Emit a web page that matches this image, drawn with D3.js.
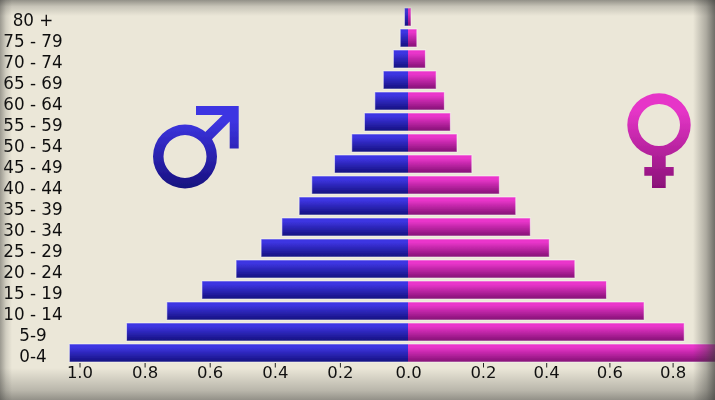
<!DOCTYPE html>
<html>
<head>
<meta charset="utf-8">
<script src="https://cdn.jsdelivr.net/npm/d3@7/dist/d3.min.js"></script>
<style>
html,body{margin:0;padding:0;background:#ebe7d8;overflow:hidden}
svg{display:block}
text{font-family:"DejaVu Sans",sans-serif;fill:#1a1a1a}
</style>
</head>
<body>
<svg id="chart" width="715" height="400"></svg>
<script>
const ageGroups = ["0-4","5-9","10 - 14","15 - 19","20 - 24","25 - 29","30 - 34","35 - 39","40 - 44","45 - 49","50 - 54","55 - 59","60 - 64","65 - 69","70 - 74","75 - 79","80 +"];
const maleValues = [1.042,0.866,0.742,0.634,0.529,0.452,0.388,0.335,0.296,0.226,0.173,0.134,0.102,0.076,0.045,0.024,0.011];
const femaleValues = [1.05,0.874,0.747,0.628,0.528,0.447,0.387,0.341,0.289,0.202,0.155,0.134,0.115,0.089,0.055,0.028,0.0095];
const maleTicks = [1.0,0.8,0.6,0.4,0.2];
const femaleTicks = [0.2,0.4,0.6,0.8];
const centerTick = "0.0";

const W = 715, H = 400, center = 408;
const svg = d3.select("#chart");
const defs = svg.append("defs");

function vGrad(id, c0, c1, user, y0, y1) {
  const g = defs.append("linearGradient").attr("id", id).attr("x1", 0).attr("x2", 0);
  if (user) g.attr("gradientUnits", "userSpaceOnUse").attr("y1", y0).attr("y2", y1);
  else g.attr("y1", 0).attr("y2", 1);
  g.append("stop").attr("offset", 0).attr("stop-color", c0);
  g.append("stop").attr("offset", 0.18).attr("stop-color", c0);
  g.append("stop").attr("offset", 1).attr("stop-color", c1);
}
vGrad("maleBar", "#3d35e2", "#15107e");
vGrad("femaleBar", "#ea36cb", "#830f74");
vGrad("maleSym", "#3d35e2", "#17117f", true, 106, 188);
vGrad("femaleSym", "#e636c8", "#8a1078", true, 93, 188);

function edge(id, x1, y1, x2, y2, stops) {
  const g = defs.append("linearGradient").attr("id", id)
    .attr("x1", x1).attr("y1", y1).attr("x2", x2).attr("y2", y2);
  stops.forEach(s => g.append("stop").attr("offset", s[0]).attr("stop-color", "#3a3a38").attr("stop-opacity", s[1]));
}
defs.append("filter").attr("id", "soft").attr("x", 0).attr("y", 0).attr("width", 1).attr("height", 1)
  .append("feGaussianBlur").attr("stdDeviation", 0.45);
defs.append("clipPath").attr("id", "clipMale").append("rect").attr("x", 0).attr("y", 0).attr("width", center).attr("height", H);
defs.append("clipPath").attr("id", "clipFemale").append("rect").attr("x", center).attr("y", 0).attr("width", W - center).attr("height", H);

const root = svg.append("g").attr("filter", "url(#soft)");
root.append("rect").attr("width", W).attr("height", H).attr("fill", "#ebe7d8");

const y = d3.scaleBand().domain(ageGroups.slice().reverse()).range([6.5, 363.5]).paddingInner(1/7).paddingOuter(1/14);
const xMale = d3.scaleLinear().domain([0, 1]).range([center, center - 325]);
const xFemale = d3.scaleLinear().domain([0, 1]).range([center, center + 316]);
const axisMale = d3.scaleLinear().domain([0, 1]).range([405, 79.5]);
const axisFemale = d3.scaleLinear().domain([0, 1]).range([419.8, 735.8]);

const overlap = 3;
root.append("g").attr("clip-path", "url(#clipMale)")
  .selectAll("rect").data(ageGroups).join("rect")
  .attr("x", (d, i) => xMale(maleValues[i])).attr("y", d => y(d))
  .attr("width", (d, i) => center + overlap - xMale(maleValues[i])).attr("height", y.bandwidth())
  .attr("fill", "url(#maleBar)").attr("stroke", "#fff").attr("stroke-opacity", 0.55).attr("stroke-width", 1);
root.append("g").attr("clip-path", "url(#clipFemale)")
  .selectAll("rect").data(ageGroups).join("rect")
  .attr("x", center - overlap).attr("y", d => y(d))
  .attr("width", (d, i) => xFemale(femaleValues[i]) - center + overlap).attr("height", y.bandwidth())
  .attr("fill", "url(#femaleBar)").attr("stroke", "#fff").attr("stroke-opacity", 0.55).attr("stroke-width", 1);

// age labels
const yAxis = d3.axisLeft(y).tickSize(0).tickPadding(0);
const gy = root.append("g").attr("transform", "translate(33,0)").call(yAxis);
gy.select(".domain").remove();
gy.selectAll("text").attr("x", 0).attr("dy", "0.55em").attr("text-anchor", "middle")
  .style("font-size", "16.8px").style("font-family", '"DejaVu Sans"').style("fill", "#111");

// value axes
function bottomAxis(scale, ticks) {
  const g = root.append("g").attr("transform", "translate(0,363)")
    .call(d3.axisBottom(scale).tickValues(ticks).tickFormat(d3.format(".1f")).tickSize(4.5).tickPadding(0));
  g.select(".domain").remove();
  g.selectAll("line").attr("stroke", "#222").attr("stroke-width", 1);
  g.selectAll("text").attr("y", 15.3).attr("dy", 0).style("font-size", "16.5px")
    .style("font-family", '"DejaVu Sans"').style("fill", "#111");
  return g;
}
bottomAxis(axisMale, maleTicks);
bottomAxis(axisFemale, femaleTicks);
root.append("text").attr("x", center + 0.7).attr("y", 378.3).attr("text-anchor", "middle")
  .style("font-size", "16.5px").style("fill", "#111").text(centerTick);

// male symbol
const male = root.append("g").attr("fill", "url(#maleSym)");
const ringM = d3.path();
ringM.arc(185, 156.5, 32, 0, 2 * Math.PI);
ringM.closePath();
ringM.moveTo(185 + 21.5, 156.5);
ringM.arc(185, 156.5, 21.5, 0, 2 * Math.PI, true);
ringM.closePath();
male.append("path").attr("d", ringM.toString());
male.append("path").attr("d", "M196,106H238.7V148.5H229.7V121.5L211.5,139.7L204.5,132.7L222.7,115H196Z");

// female symbol
const female = root.append("g").attr("fill", "url(#femaleSym)");
const ringF = d3.path();
ringF.arc(659, 125, 31.7, 0, 2 * Math.PI);
ringF.closePath();
ringF.moveTo(659 + 21, 125);
ringF.arc(659, 125, 21, 0, 2 * Math.PI, true);
ringF.closePath();
female.append("path").attr("d", ringF.toString());
female.append("path").attr("d", "M652,155H665.7V167H673.7V175.7H665.7V188H652V175.7H644.3V167H652Z");

// vignette
edge("vTop", 0, 0, 0, 1, [[0, 0.5], [0.4, 0.2], [1, 0]]);
edge("vBottom", 0, 1, 0, 0, [[0, 0.5], [0.3, 0.28], [1, 0]]);
edge("vLeft", 0, 0, 1, 0, [[0, 0.45], [0.5, 0.15], [1, 0]]);
edge("vRight", 1, 0, 0, 0, [[0, 0.7], [0.4, 0.35], [1, 0]]);
const over = svg.append("g").attr("pointer-events", "none");
over.append("rect").attr("width", W).attr("height", 16).attr("fill", "url(#vTop)");
over.append("rect").attr("y", H - 32).attr("width", W).attr("height", 32).attr("fill", "url(#vBottom)");
over.append("rect").attr("width", 12).attr("height", H).attr("fill", "url(#vLeft)");
over.append("rect").attr("x", W - 22).attr("width", 22).attr("height", H).attr("fill", "url(#vRight)");
</script>
</body>
</html>
